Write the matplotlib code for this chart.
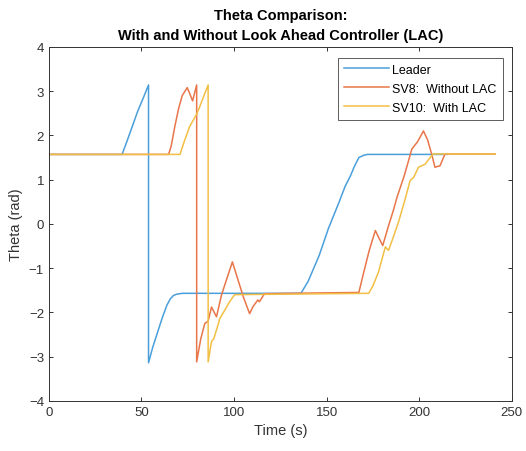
import matplotlib
matplotlib.use("Agg")
import matplotlib.pyplot as plt

plt.rcParams['font.family'] = ['Liberation Sans', 'DejaVu Sans']

# Leader
t_leader = [0, 39.5, 42, 45, 48, 51, 53.8, 53.8, 56, 58.3, 61, 63.7, 65.5, 67.2, 69, 72,
            100, 136.1, 140, 146, 151, 156.7, 160, 162.9, 165, 167.4, 170, 172, 215]
th_leader = [1.57, 1.57, 1.85, 2.2, 2.55, 2.85, 3.14, -3.14, -2.8, -2.5, -2.15, -1.84, -1.7,
             -1.62, -1.59, -1.57, -1.57, -1.57, -1.3, -0.71, -0.1, 0.49, 0.85, 1.09, 1.3,
             1.50, 1.55, 1.57, 1.57]

# SV8 (without LAC)
t_sv8 = [0, 64.6, 66, 68, 70, 72, 74.7, 76, 77.6, 79.8, 79.8, 82, 84.2, 86, 87.8, 90.5,
         93.2, 96, 99.1, 102, 105, 108.4, 110.1, 112.8, 113.7, 116.4, 130, 167.4, 170,
         173, 176.3, 178, 180.3, 183, 186, 188, 192, 196, 199, 202.3, 204.5, 206.7, 208.5,
         210, 211.2, 213.9, 241]
th_sv8 = [1.57, 1.57, 1.75, 2.2, 2.6, 2.9, 3.08, 2.95, 2.78, 3.14, -3.12, -2.6, -2.25, -2.2,
          -1.88, -2.10, -1.61, -1.25, -0.86, -1.25, -1.65, -2.03, -1.88, -1.72, -1.76,
          -1.58, -1.57, -1.55, -1.1, -0.6, -0.15, -0.3, -0.49, -0.1, 0.3, 0.60, 1.1, 1.69,
          1.85, 2.10, 1.9, 1.58, 1.28, 1.3, 1.31, 1.58, 1.58]

# SV10 (with LAC)
t_sv10 = [0, 70.8, 73, 76, 79.8, 81, 83.3, 86, 86, 87.8, 89, 90.8, 92.3, 95, 97.6, 100.3,
          172.7, 175, 178, 181.7, 183.4, 186, 188.8, 192, 195.1, 197, 199.6, 203.2, 205.9,
          207.6, 241]
th_sv10 = [1.57, 1.57, 1.85, 2.2, 2.48, 2.6, 2.85, 3.14, -3.12, -2.66, -2.6, -2.36, -2.14,
           -1.95, -1.76, -1.60, -1.57, -1.4, -1.09, -0.52, -0.6, -0.3, 0.04, 0.5, 0.98,
           1.05, 1.28, 1.35, 1.5, 1.58, 1.58]

labels = ["Leader", "SV8:  Without LAC", "SV10:  With LAC"]

fig = plt.figure(figsize=(5.26, 4.52), dpi=100)
ax = fig.add_axes([0.093, 0.111, 0.88, 0.783])

ax.plot(t_leader, th_leader, color='#4A9FDB', lw=1.1, label=labels[0])
ax.plot(t_sv8, th_sv8, color='#E8764A', lw=1.1, label=labels[1])
ax.plot(t_sv10, th_sv10, color='#F2BF45', lw=1.1, label=labels[2])

ax.set_xlim(0, 250)
ax.set_ylim(-4, 4)
ax.set_xticks(range(0, 251, 50))
ax.set_yticks(range(-4, 5))
ax.tick_params(direction='in', top=True, right=True, labelsize=9.5, colors='#333333',
               length=3, width=0.7)
for s in ax.spines.values():
    s.set_color('#333333')
    s.set_linewidth(0.7)

ax.set_xlabel("Time (s)", fontsize=10.5, color='#333333')
ax.set_ylabel("Theta (rad)", fontsize=10.5, color='#333333')
ax.set_title("Theta Comparison:\nWith and Without Look Ahead Controller (LAC)",
             fontsize=10.5, fontweight='bold', pad=6, linespacing=1.55)

leg = ax.legend(loc='upper right', fontsize=9, frameon=True, fancybox=False,
                edgecolor='#333333', handlelength=3.6, borderpad=0.5, labelspacing=0.55,
                handletextpad=0.2, borderaxespad=0, bbox_to_anchor=(0.98, 0.97))
leg.get_frame().set_linewidth(0.7)

fig.savefig("out.png", dpi=100)
